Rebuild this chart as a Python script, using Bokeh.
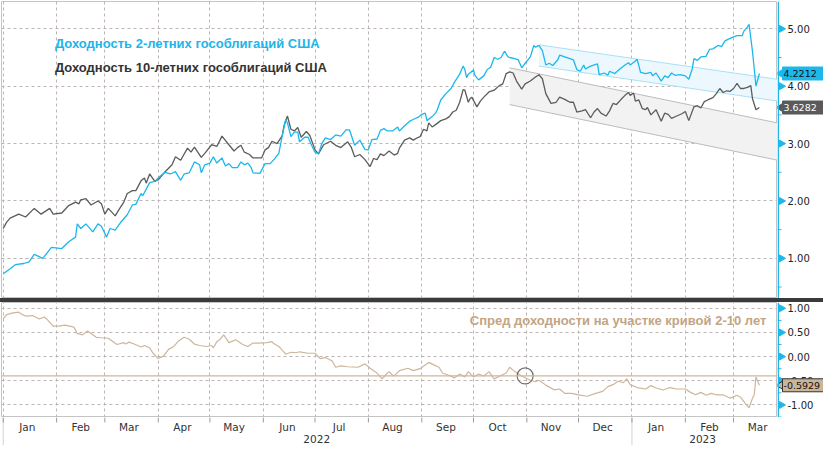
import math
import pandas as pd
from bokeh.plotting import figure
from bokeh.models import (ColumnDataSource, Range1d, FixedTicker, Label, Span, Spacer)
from bokeh.layouts import column, row
from bokeh.core.properties import value
from bokeh.embed import file_html
from bokeh.resources import INLINE

# ---------------- data ----------------
y2_dates = ["2022-01-01","2022-01-05","2022-01-08","2022-01-13","2022-01-16","2022-01-19","2022-01-24","2022-01-29",
"2022-02-04","2022-02-08","2022-02-12","2022-02-13","2022-02-15","2022-02-18","2022-02-22","2022-02-25","2022-02-27",
"2022-03-02","2022-03-04","2022-03-07","2022-03-10","2022-03-14","2022-03-17","2022-03-19","2022-03-22","2022-03-23","2022-03-27","2022-03-30",
"2022-04-02","2022-04-05","2022-04-08","2022-04-11","2022-04-14","2022-04-16","2022-04-19","2022-04-22","2022-04-25","2022-04-26","2022-04-28",
"2022-05-01","2022-05-03","2022-05-05","2022-05-08","2022-05-10","2022-05-12","2022-05-14","2022-05-17","2022-05-19","2022-05-21","2022-05-23","2022-05-25","2022-05-26","2022-05-30",
"2022-06-02","2022-06-05","2022-06-08","2022-06-10","2022-06-12","2022-06-14","2022-06-15","2022-06-17","2022-06-19","2022-06-21","2022-06-22","2022-06-25","2022-06-27","2022-06-29",
"2022-07-01","2022-07-03","2022-07-05","2022-07-07","2022-07-10","2022-07-13","2022-07-16","2022-07-19","2022-07-21","2022-07-24","2022-07-27","2022-07-30",
"2022-08-01","2022-08-03","2022-08-06","2022-08-08","2022-08-10","2022-08-12","2022-08-15","2022-08-18","2022-08-19","2022-08-22","2022-08-25","2022-08-27","2022-08-30",
"2022-09-01","2022-09-03","2022-09-04","2022-09-07","2022-09-09","2022-09-10","2022-09-12","2022-09-15","2022-09-18","2022-09-20","2022-09-23","2022-09-25","2022-09-26","2022-09-27","2022-09-28",
"2022-10-01","2022-10-02","2022-10-04","2022-10-07","2022-10-09","2022-10-11","2022-10-13","2022-10-15","2022-10-17","2022-10-19","2022-10-21","2022-10-22","2022-10-25","2022-10-27","2022-10-29","2022-10-31",
"2022-11-03","2022-11-05","2022-11-06","2022-11-08","2022-11-10","2022-11-12","2022-11-14","2022-11-16","2022-11-19","2022-11-20","2022-11-23","2022-11-26","2022-11-28","2022-11-30",
"2022-12-02","2022-12-04","2022-12-05","2022-12-08","2022-12-12","2022-12-13","2022-12-16","2022-12-18","2022-12-19","2022-12-22","2022-12-25","2022-12-28","2022-12-30","2022-12-31",
"2023-01-03","2023-01-04","2023-01-05","2023-01-06","2023-01-09","2023-01-12","2023-01-13","2023-01-15","2023-01-18","2023-01-20","2023-01-22","2023-01-24","2023-01-26","2023-01-29",
"2023-02-01","2023-02-03","2023-02-05","2023-02-06","2023-02-08","2023-02-10","2023-02-13","2023-02-15","2023-02-17","2023-02-20","2023-02-22","2023-02-24","2023-02-26",
"2023-03-01","2023-03-03","2023-03-06","2023-03-07","2023-03-09","2023-03-10","2023-03-12","2023-03-14","2023-03-16"]
y2_vals = [0.73,0.82,0.89,0.91,0.94,1.07,1.00,1.19,
1.17,1.29,1.37,1.60,1.52,1.60,1.46,1.60,1.56,
1.37,1.52,1.49,1.62,1.76,1.93,1.94,2.13,2.09,2.32,2.34,
2.43,2.50,2.47,2.51,2.36,2.47,2.49,2.68,2.63,2.49,2.63,
2.66,2.77,2.66,2.75,2.61,2.65,2.58,2.58,2.68,2.63,2.66,2.58,2.49,2.48,
2.65,2.65,2.75,2.83,3.14,3.42,3.36,3.12,3.20,3.20,3.03,3.11,3.11,2.97,
2.85,2.82,3.00,3.10,3.07,3.15,3.13,3.24,3.24,2.97,3.06,2.90,
2.89,3.07,3.08,3.23,3.26,3.22,3.22,3.29,3.22,3.31,3.39,3.42,3.46,
3.51,3.53,3.40,3.47,3.53,3.59,3.76,3.87,3.96,4.07,4.21,4.35,4.29,4.15,4.21,
4.28,4.18,4.11,4.18,4.29,4.33,4.50,4.47,4.50,4.61,4.51,4.50,4.48,4.46,4.32,4.40,
4.51,4.71,4.68,4.71,4.62,4.37,4.40,4.36,4.46,4.54,4.51,4.48,4.46,4.29,
4.26,4.37,4.30,4.35,4.39,4.20,4.23,4.19,4.26,4.22,4.30,4.37,4.41,4.37,
4.44,4.47,4.36,4.24,4.22,4.24,4.18,4.23,4.09,4.18,4.15,4.23,4.19,4.20,
4.18,4.12,4.30,4.48,4.45,4.51,4.52,4.64,4.65,4.71,4.69,4.79,4.82,
4.86,4.88,4.88,4.96,5.03,5.08,4.60,4.00,4.2212]

y10_dates = ["2022-01-01","2022-01-03","2022-01-05","2022-01-10","2022-01-14","2022-01-19","2022-01-23","2022-01-28","2022-01-30",
"2022-02-04","2022-02-08","2022-02-12","2022-02-14","2022-02-15","2022-02-18","2022-02-21","2022-02-25","2022-02-27",
"2022-03-01","2022-03-03","2022-03-07","2022-03-09","2022-03-12","2022-03-14","2022-03-17","2022-03-19","2022-03-22","2022-03-24","2022-03-25","2022-03-27","2022-03-30",
"2022-04-01","2022-04-05","2022-04-09","2022-04-11","2022-04-14","2022-04-18","2022-04-20","2022-04-22","2022-04-26","2022-04-28",
"2022-05-02","2022-05-05","2022-05-08","2022-05-12","2022-05-15","2022-05-17","2022-05-19","2022-05-21","2022-05-24","2022-05-26","2022-05-31",
"2022-06-02","2022-06-04","2022-06-06","2022-06-09","2022-06-12","2022-06-13","2022-06-15","2022-06-17","2022-06-19","2022-06-21","2022-06-23","2022-06-26","2022-06-28",
"2022-07-01","2022-07-03","2022-07-06","2022-07-10","2022-07-13","2022-07-16","2022-07-20","2022-07-22","2022-07-24","2022-07-27","2022-07-30",
"2022-08-02","2022-08-04","2022-08-06","2022-08-08","2022-08-10","2022-08-13","2022-08-16","2022-08-18","2022-08-19","2022-08-22","2022-08-25","2022-08-27","2022-08-30","2022-08-31",
"2022-09-02","2022-09-04","2022-09-05","2022-09-07","2022-09-09","2022-09-12","2022-09-15","2022-09-17","2022-09-19","2022-09-21","2022-09-23","2022-09-25","2022-09-26","2022-09-28","2022-09-29","2022-09-30",
"2022-10-03","2022-10-05","2022-10-07","2022-10-10","2022-10-13","2022-10-16","2022-10-18","2022-10-20","2022-10-22","2022-10-24","2022-10-26","2022-10-29","2022-10-31",
"2022-11-03","2022-11-06","2022-11-08","2022-11-10","2022-11-12","2022-11-15","2022-11-18","2022-11-20","2022-11-23","2022-11-26","2022-11-28","2022-11-30",
"2022-12-03","2022-12-05","2022-12-08","2022-12-10","2022-12-12","2022-12-14","2022-12-17","2022-12-19","2022-12-21","2022-12-23","2022-12-26","2022-12-28","2022-12-30","2022-12-31",
"2023-01-02","2023-01-03","2023-01-05","2023-01-07","2023-01-09","2023-01-10","2023-01-12","2023-01-15","2023-01-18","2023-01-20","2023-01-22","2023-01-24","2023-01-27","2023-01-30",
"2023-02-01","2023-02-03","2023-02-06","2023-02-08","2023-02-10","2023-02-12","2023-02-14","2023-02-17","2023-02-19","2023-02-21","2023-02-23","2023-02-25","2023-02-27",
"2023-03-01","2023-03-03","2023-03-05","2023-03-07","2023-03-09","2023-03-11","2023-03-12","2023-03-14","2023-03-16"]
y10_vals = [1.52,1.63,1.70,1.77,1.72,1.87,1.77,1.87,1.77,
1.79,1.92,1.98,1.95,2.02,2.04,1.93,2.00,1.95,
1.77,1.87,1.74,1.84,1.98,2.13,2.18,2.18,2.35,2.40,2.31,2.47,2.34,
2.37,2.51,2.63,2.77,2.71,2.92,2.85,2.94,2.76,2.83,
2.98,2.95,3.13,2.98,2.87,2.93,2.97,2.85,2.81,2.75,2.75,
2.89,2.93,3.04,3.00,3.14,3.31,3.48,3.25,3.22,3.28,3.11,3.21,3.14,
2.89,2.82,2.98,3.04,2.97,2.93,3.03,2.94,2.77,2.81,2.72,
2.60,2.74,2.72,2.82,2.79,2.87,2.80,2.83,2.92,3.06,3.10,3.06,3.11,3.12,
3.25,3.22,3.36,3.29,3.33,3.40,3.43,3.47,3.55,3.58,3.72,3.94,3.93,3.72,3.78,3.81,
3.64,3.74,3.81,3.90,3.93,4.01,4.04,4.22,4.25,4.23,4.09,3.95,4.04,
4.09,4.16,4.20,4.13,3.87,3.70,3.72,3.81,3.77,3.72,3.72,3.55,
3.57,3.59,3.45,3.55,3.61,3.53,3.48,3.57,3.70,3.68,3.78,3.84,3.89,3.84,
3.88,3.74,3.76,3.61,3.59,3.63,3.50,3.59,3.39,3.53,3.51,3.44,3.48,3.52,
3.56,3.40,3.64,3.66,3.62,3.73,3.76,3.80,3.87,3.96,3.89,3.92,3.91,
3.96,4.05,3.96,3.96,3.98,4.01,3.78,3.59,3.6282]

spread_dates = ["2022-01-01","2022-01-03","2022-01-06","2022-01-10","2022-01-12","2022-01-14","2022-01-18","2022-01-22","2022-01-25","2022-01-27","2022-01-30",
"2022-02-02","2022-02-06","2022-02-11","2022-02-13","2022-02-16","2022-02-19","2022-02-21","2022-02-24","2022-02-27",
"2022-03-03","2022-03-08","2022-03-12","2022-03-13","2022-03-15","2022-03-18","2022-03-22","2022-03-24","2022-03-27","2022-03-29",
"2022-04-01","2022-04-04","2022-04-07","2022-04-10","2022-04-13","2022-04-16","2022-04-19","2022-04-22","2022-04-25","2022-04-29",
"2022-05-02","2022-05-03","2022-05-05","2022-05-07","2022-05-09","2022-05-12","2022-05-16","2022-05-20","2022-05-23","2022-05-26","2022-05-29",
"2022-06-03","2022-06-06","2022-06-07","2022-06-10","2022-06-14","2022-06-17","2022-06-20","2022-06-22","2022-06-27",
"2022-07-01","2022-07-04","2022-07-07","2022-07-11","2022-07-13","2022-07-16","2022-07-20","2022-07-26","2022-07-30",
"2022-08-02","2022-08-06","2022-08-09","2022-08-11","2022-08-13","2022-08-15","2022-08-16","2022-08-19","2022-08-24","2022-08-27","2022-08-31",
"2022-09-05","2022-09-08","2022-09-11","2022-09-13","2022-09-17","2022-09-20","2022-09-23","2022-09-26","2022-09-28",
"2022-10-01","2022-10-04","2022-10-07","2022-10-10","2022-10-13","2022-10-17","2022-10-20","2022-10-22","2022-10-25","2022-10-29",
"2022-11-03","2022-11-06","2022-11-08","2022-11-12","2022-11-17","2022-11-20","2022-11-23","2022-11-27",
"2022-12-01","2022-12-06","2022-12-11","2022-12-15","2022-12-18","2022-12-21","2022-12-24","2022-12-27","2022-12-29","2022-12-31",
"2023-01-04","2023-01-09","2023-01-12","2023-01-15","2023-01-19","2023-01-23","2023-01-27",
"2023-02-01","2023-02-04","2023-02-07","2023-02-10","2023-02-13","2023-02-16","2023-02-19","2023-02-23","2023-02-27",
"2023-03-03","2023-03-05","2023-03-08","2023-03-10","2023-03-12","2023-03-13","2023-03-14","2023-03-16"]
spread_vals = [0.78,0.87,0.90,0.92,0.87,0.84,0.85,0.78,0.82,0.75,0.63,
0.63,0.65,0.61,0.48,0.45,0.53,0.48,0.40,0.39,
0.38,0.25,0.29,0.26,0.30,0.26,0.20,0.23,0.18,0.07,
-0.04,0.01,0.15,0.21,0.33,0.40,0.36,0.26,0.23,0.21,
0.23,0.18,0.31,0.36,0.45,0.29,0.35,0.25,0.21,0.28,0.28,
0.29,0.31,0.27,0.21,0.05,0.09,0.08,0.10,0.07,
0.07,-0.04,-0.02,-0.09,-0.22,-0.19,-0.21,-0.22,-0.15,
-0.24,-0.34,-0.46,-0.38,-0.31,-0.38,-0.40,-0.29,-0.24,-0.29,-0.25,
-0.12,-0.17,-0.22,-0.34,-0.39,-0.44,-0.36,-0.42,-0.31,
-0.42,-0.36,-0.40,-0.31,-0.46,-0.39,-0.34,-0.22,-0.31,-0.40,
-0.49,-0.52,-0.49,-0.59,-0.69,-0.67,-0.76,-0.76,
-0.79,-0.82,-0.76,-0.72,-0.62,-0.58,-0.51,-0.54,-0.46,-0.58,
-0.64,-0.67,-0.60,-0.65,-0.69,-0.64,-0.67,
-0.67,-0.74,-0.79,-0.74,-0.80,-0.76,-0.79,-0.79,-0.86,
-0.80,-0.84,-0.98,-1.06,-0.86,-0.79,-0.42,-0.5929]

last_2y = 4.2212
last_10y = 3.6282
last_spread = -0.5929

x_start = "2021-12-31"
x_end = "2023-03-26 12:00"

# trend channels (start date -> right edge)
chan2_dates = ["2022-11-08", x_end]
chan2_upper = [4.72, 4.12]
chan2_lower = [4.35, 3.74]
chan10_dates = ["2022-10-22", x_end]
chan10_upper = [4.32, 3.36]
chan10_lower = [3.68, 2.71]

spread_ref_level = -0.40
marker_date = "2022-10-31"

top_ticks = [1, 2, 3, 4, 5]
top_minor = [0.5, 1.5, 2.5, 3.5, 4.5]
bot_ticks = [-1.0, -0.5, 0.0, 0.5, 1.0]
bot_minor = [-1.25, -0.75, -0.25, 0.25, 0.75]

label_2y = "Доходность 2-летних гособлигаций США"
label_10y = "Доходность 10-летних гособлигаций США"
label_spread = "Спред доходности на участке кривой 2-10 лет"
years = ["2022", "2023"]
year_centers = ["2022-07-02", "2023-02-11"]
year_starts = ["2022-01-01", "2023-01-01"]

# ---------------- styles ----------------
BLUE = "#1cb8ec"
GREY_LINE = "#5c5c5c"
TAN = "#cdb69c"
TAN_TEXT = "#c2a583"
GRID = "#bdb4b4"
AX_FONT = "DejaVu Sans"
W_MAIN = 777   # 1px left border + 776px frame
W_AXIS = 46

def ts(s):
    return pd.Timestamp(s)

month_starts = list(pd.date_range("2022-01-01", "2023-03-01", freq="MS"))
month_mids = [d + pd.Timedelta(days=14) for d in month_starts]
month_names = [d.strftime("%b") for d in month_starts]
month_start_ms = [d.timestamp() * 1000.0 for d in month_starts]

xr = Range1d(ts(x_start), ts(x_end))


def style_grid(p, yticks):
    p.xgrid.ticker = FixedTicker(ticks=month_start_ms)
    p.ygrid.ticker = FixedTicker(ticks=yticks)
    for g in (p.xgrid[0], p.ygrid[0]):
        g.grid_line_color = GRID
        g.grid_line_dash = "3 3"
        g.grid_line_width = 1


def axis_panel(y_range, height, border_top, ticks, minor, badges):
    """Right-hand value axis drawn in its own narrow frame that shares the y range."""
    a = figure(width=W_AXIS, height=height, x_range=Range1d(0, W_AXIS), y_range=y_range,
               x_axis_location=None, y_axis_location=None, output_backend="svg",
               toolbar_location=None, min_border_left=0, min_border_right=0,
               min_border_top=border_top, min_border_bottom=0)
    a.grid.visible = False
    a.outline_line_color = None
    a.add_layout(Span(location=0.75, dimension="height", line_color=BLUE, line_width=1.5))
    a.segment(x0=0, x1=4, y0=minor, y1=minor, line_color=BLUE, line_width=1)
    a.scatter(x=4, y=ticks, marker="triangle", angle=-math.pi / 2, size=7,
              fill_color=BLUE, line_color=BLUE)
    lab = ColumnDataSource(dict(y=ticks, t=[f"{v:.2f}" for v in ticks]))
    a.text(x=10, y="y", text="t", source=lab, text_font=value(AX_FONT),
           text_font_size="10px", text_baseline="middle", text_color="#222222")
    for val, bg, fg, border in badges:
        a.scatter(x=4, y=[val], marker="triangle", angle=math.pi / 2, size=10,
                  fill_color=bg, line_color=border if border else bg)
        a.rect(x=25.5, y=[val], width=41, height=13, height_units="screen",
               fill_color=bg, line_color=border if border else bg)
        bs = ColumnDataSource(dict(y=[val], t=[f"{val:.4f}"]))
        a.text(x=6, y="y", text="t", source=bs, text_font=value(AX_FONT),
               text_font_size="9.5px", text_baseline="middle", text_color=fg)
    return a


# ---------------- top panel ----------------
top_yr = Range1d(0.30, 5.476)
top = figure(width=W_MAIN, height=298, x_range=xr, y_range=top_yr,
             y_axis_location=None, x_axis_location=None,
             output_backend="svg", toolbar_location=None,
             min_border_left=1, min_border_right=0, min_border_top=1, min_border_bottom=0)
top.outline_line_color = "#c4c4c4"
style_grid(top, top_ticks)

c10 = ColumnDataSource(dict(x=[ts(d) for d in chan10_dates], lo=chan10_lower, hi=chan10_upper))
top.varea(x="x", y1="lo", y2="hi", source=c10, fill_color="#f2f2f2")
top.line(x="x", y="lo", source=c10, line_color="#bcbcbc", line_width=1)
top.line(x="x", y="hi", source=c10, line_color="#bcbcbc", line_width=1)

c2 = ColumnDataSource(dict(x=[ts(d) for d in chan2_dates], lo=chan2_lower, hi=chan2_upper))
top.varea(x="x", y1="lo", y2="hi", source=c2, fill_color="#ecf8fd")
top.line(x="x", y="lo", source=c2, line_color="#a9e0f4", line_width=1)
top.line(x="x", y="hi", source=c2, line_color="#a9e0f4", line_width=1)

s10 = ColumnDataSource(dict(x=[ts(d) for d in y10_dates], y=y10_vals))
s2 = ColumnDataSource(dict(x=[ts(d) for d in y2_dates], y=y2_vals))
top.line(x="x", y="y", source=s10, line_color=GREY_LINE, line_width=1.3)
top.line(x="x", y="y", source=s2, line_color=BLUE, line_width=1.3)

top.add_layout(Label(x=ts("2022-01-31"), y=4.74, text=label_2y, text_color="#22b4e8",
                     text_font="Liberation Sans", text_font_style="bold", text_font_size="13px",
                     text_baseline="middle"))
top.add_layout(Label(x=ts("2022-01-31"), y=4.32, text=label_10y, text_color="#333333",
                     text_font="Liberation Sans", text_font_style="bold", text_font_size="13px",
                     text_baseline="middle"))

top_ax = axis_panel(top_yr, 298, 1, top_ticks, top_minor,
                    [(last_2y, BLUE, "#111111", None), (last_10y, "#5a5a5a", "#ffffff", None)])

# ---------------- separator ----------------
sep = Spacer(width=W_MAIN + W_AXIS, height=4, styles={"background-color": "#3b3b3b"})

# ---------------- bottom panel ----------------
bot_yr = Range1d(-1.26, 1.12)
bot = figure(width=W_MAIN, height=115, x_range=xr, y_range=bot_yr,
             y_axis_location=None, x_axis_location=None,
             output_backend="svg", toolbar_location=None,
             min_border_left=1, min_border_right=0, min_border_top=0, min_border_bottom=0)
bot.outline_line_color = "#c4c4c4"
style_grid(bot, bot_ticks)

bot.add_layout(Span(location=spread_ref_level, dimension="width", line_color=TAN, line_width=1.3))
ss = ColumnDataSource(dict(x=[ts(d) for d in spread_dates], y=spread_vals))
bot.line(x="x", y="y", source=ss, line_color=TAN, line_width=1.2)
bot.scatter(x=[ts(marker_date)], y=[spread_ref_level], marker="circle", size=16,
            fill_color=None, line_color="#6e6e6e", line_width=1.2)

bot.add_layout(Label(x=ts("2023-03-20"), y=0.75, text=label_spread, text_color=TAN_TEXT,
                     text_font="Liberation Sans", text_font_style="bold", text_font_size="13px",
                     text_baseline="middle", text_align="right"))

bot_ax = axis_panel(bot_yr, 115, 0, bot_ticks, bot_minor,
                    [(last_spread, "#cbb497", "#111111", "#333333")])

# ---------------- date axis strip ----------------
strip = figure(width=W_MAIN + W_AXIS, height=28, x_range=xr, y_range=Range1d(0, 28),
               x_axis_location=None, y_axis_location=None, output_backend="svg",
               toolbar_location=None, min_border_left=1, min_border_right=W_AXIS,
               min_border_top=0, min_border_bottom=0)
strip.grid.visible = False
strip.outline_line_color = None
strip.segment(x0=[ts(d) for d in year_starts], x1=[ts(d) for d in year_starts],
              y0=0, y1=28, line_color="#d2d2d2", line_width=1)
strip.segment(x0=month_starts, x1=month_starts, y0=28, y1=23, line_color="#9a9a9a", line_width=1)
ms_src = ColumnDataSource(dict(x=month_mids, t=month_names))
strip.text(x="x", y=19, text="t", source=ms_src, text_font=value(AX_FONT),
           text_font_size="10.5px", text_align="center", text_baseline="middle",
           text_color="#333333")
yr_src = ColumnDataSource(dict(x=[ts(d) for d in year_centers], t=years))
strip.text(x="x", y=7, text="t", source=yr_src, text_font=value(AX_FONT),
           text_font_size="10.5px", text_align="center", text_baseline="middle",
           text_color="#333333")

layout = column(row(top, top_ax, spacing=0), sep, row(bot, bot_ax, spacing=0), strip, spacing=0)
open("out.html", "w").write(file_html(layout, INLINE))
